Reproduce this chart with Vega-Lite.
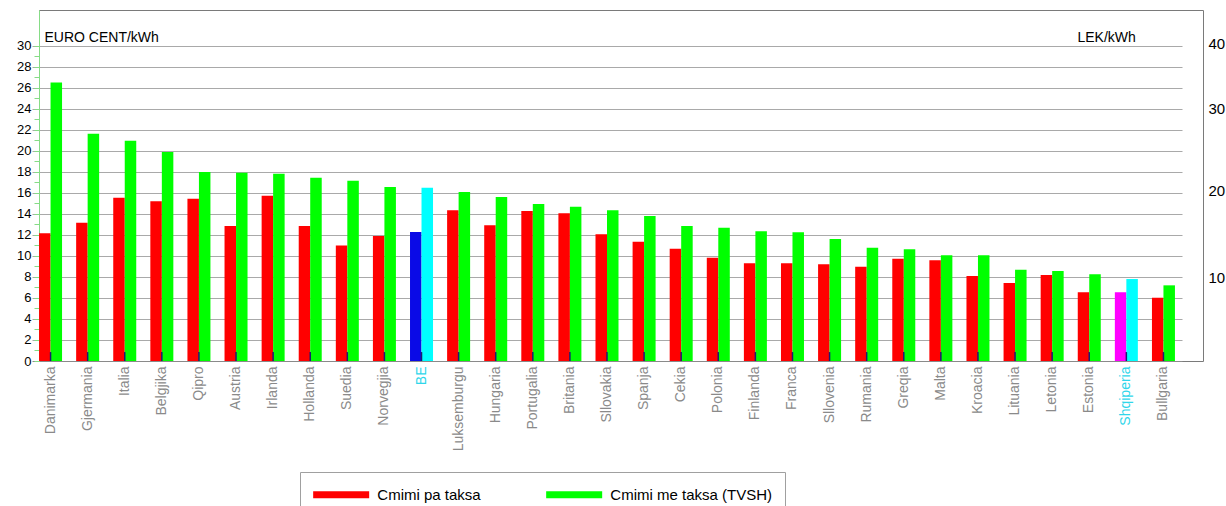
{
  "$schema": "https://vega.github.io/schema/vega-lite/v6.json",
  "autosize": "none",
  "width": 1164,
  "height": 351,
  "padding": {"left": 39, "top": 10, "right": 23, "bottom": 145},
  "background": "white",
  "config": {
    "font": "Liberation Sans",
    "view": {"stroke": "#7a7a7a", "strokeWidth": 1}
  },
  "data": {
    "values": [
      {"country": "Danimarka", "type": "Cmimi pa taksa", "value": 12.15},
      {"country": "Danimarka", "type": "Cmimi me taksa (TVSH)", "value": 26.5},
      {"country": "Gjermania", "type": "Cmimi pa taksa", "value": 13.16},
      {"country": "Gjermania", "type": "Cmimi me taksa (TVSH)", "value": 21.63},
      {"country": "Italia", "type": "Cmimi pa taksa", "value": 15.54},
      {"country": "Italia", "type": "Cmimi me taksa (TVSH)", "value": 20.96},
      {"country": "Belgjika", "type": "Cmimi pa taksa", "value": 15.19},
      {"country": "Belgjika", "type": "Cmimi me taksa (TVSH)", "value": 19.89},
      {"country": "Qipro", "type": "Cmimi pa taksa", "value": 15.45},
      {"country": "Qipro", "type": "Cmimi me taksa (TVSH)", "value": 17.98},
      {"country": "Austria", "type": "Cmimi pa taksa", "value": 12.85},
      {"country": "Austria", "type": "Cmimi me taksa (TVSH)", "value": 17.92},
      {"country": "Irlanda", "type": "Cmimi pa taksa", "value": 15.73},
      {"country": "Irlanda", "type": "Cmimi me taksa (TVSH)", "value": 17.82},
      {"country": "Hollanda", "type": "Cmimi pa taksa", "value": 12.85},
      {"country": "Hollanda", "type": "Cmimi me taksa (TVSH)", "value": 17.44},
      {"country": "Suedia", "type": "Cmimi pa taksa", "value": 11.0},
      {"country": "Suedia", "type": "Cmimi me taksa (TVSH)", "value": 17.16},
      {"country": "Norvegjia", "type": "Cmimi pa taksa", "value": 11.89},
      {"country": "Norvegjia", "type": "Cmimi me taksa (TVSH)", "value": 16.56},
      {"country": "BE", "type": "Cmimi pa taksa", "value": 12.27},
      {"country": "BE", "type": "Cmimi me taksa (TVSH)", "value": 16.49},
      {"country": "Luksemburgu", "type": "Cmimi pa taksa", "value": 14.34},
      {"country": "Luksemburgu", "type": "Cmimi me taksa (TVSH)", "value": 16.08},
      {"country": "Hungaria", "type": "Cmimi pa taksa", "value": 12.91},
      {"country": "Hungaria", "type": "Cmimi me taksa (TVSH)", "value": 15.6},
      {"country": "Portugalia", "type": "Cmimi pa taksa", "value": 14.27},
      {"country": "Portugalia", "type": "Cmimi me taksa (TVSH)", "value": 14.94},
      {"country": "Britania", "type": "Cmimi pa taksa", "value": 14.05},
      {"country": "Britania", "type": "Cmimi me taksa (TVSH)", "value": 14.68},
      {"country": "Sllovakia", "type": "Cmimi pa taksa", "value": 12.05},
      {"country": "Sllovakia", "type": "Cmimi me taksa (TVSH)", "value": 14.34},
      {"country": "Spanja", "type": "Cmimi pa taksa", "value": 11.35},
      {"country": "Spanja", "type": "Cmimi me taksa (TVSH)", "value": 13.8},
      {"country": "Cekia", "type": "Cmimi pa taksa", "value": 10.69},
      {"country": "Cekia", "type": "Cmimi me taksa (TVSH)", "value": 12.85},
      {"country": "Polonia", "type": "Cmimi pa taksa", "value": 9.83},
      {"country": "Polonia", "type": "Cmimi me taksa (TVSH)", "value": 12.68},
      {"country": "Finlanda", "type": "Cmimi pa taksa", "value": 9.29},
      {"country": "Finlanda", "type": "Cmimi me taksa (TVSH)", "value": 12.34},
      {"country": "Franca", "type": "Cmimi pa taksa", "value": 9.29},
      {"country": "Franca", "type": "Cmimi me taksa (TVSH)", "value": 12.24},
      {"country": "Sllovenia", "type": "Cmimi pa taksa", "value": 9.2},
      {"country": "Sllovenia", "type": "Cmimi me taksa (TVSH)", "value": 11.61},
      {"country": "Rumania", "type": "Cmimi pa taksa", "value": 8.97},
      {"country": "Rumania", "type": "Cmimi me taksa (TVSH)", "value": 10.78},
      {"country": "Greqia", "type": "Cmimi pa taksa", "value": 9.73},
      {"country": "Greqia", "type": "Cmimi me taksa (TVSH)", "value": 10.63},
      {"country": "Malta", "type": "Cmimi pa taksa", "value": 9.58},
      {"country": "Malta", "type": "Cmimi me taksa (TVSH)", "value": 10.06},
      {"country": "Kroacia", "type": "Cmimi pa taksa", "value": 8.09},
      {"country": "Kroacia", "type": "Cmimi me taksa (TVSH)", "value": 10.06},
      {"country": "Lituania", "type": "Cmimi pa taksa", "value": 7.42},
      {"country": "Lituania", "type": "Cmimi me taksa (TVSH)", "value": 8.69},
      {"country": "Letonia", "type": "Cmimi pa taksa", "value": 8.18},
      {"country": "Letonia", "type": "Cmimi me taksa (TVSH)", "value": 8.56},
      {"country": "Estonia", "type": "Cmimi pa taksa", "value": 6.54},
      {"country": "Estonia", "type": "Cmimi me taksa (TVSH)", "value": 8.25},
      {"country": "Shqiperia", "type": "Cmimi pa taksa", "value": 6.54},
      {"country": "Shqiperia", "type": "Cmimi me taksa (TVSH)", "value": 7.8},
      {"country": "Bullgaria", "type": "Cmimi pa taksa", "value": 6.02},
      {"country": "Bullgaria", "type": "Cmimi me taksa (TVSH)", "value": 7.2}
    ]
  },
  "encoding": {
    "x": {
      "field": "country",
      "type": "nominal",
      "sort": null,
      "scale": {
        "domain": ["Danimarka", "Gjermania", "Italia", "Belgjika", "Qipro", "Austria", "Irlanda", "Hollanda", "Suedia", "Norvegjia", "BE", "Luksemburgu", "Hungaria", "Portugalia", "Britania", "Sllovakia", "Spanja", "Cekia", "Polonia", "Finlanda", "Franca", "Sllovenia", "Rumania", "Greqia", "Malta", "Kroacia", "Lituania", "Letonia", "Estonia", "Shqiperia", "Bullgaria"],
        "range": [-7, 1143],
        "paddingInner": 0.38,
        "paddingOuter": 0.19
      },
      "axis": {
        "title": null,
        "labelAngle": 270,
        "labelAlign": "right",
        "labelBaseline": "middle",
        "labelPadding": 5,
        "labelFontSize": 14,
        "labelFont": "Liberation Sans",
        "labelColor": {"condition": {"test": "datum.value === 'BE' || datum.value === 'Shqiperia'", "value": "#2fd6ea"}, "value": "#8a8a8a"},
        "ticks": false,
        "domainColor": "#8a8a8a",
        "grid": false
      }
    }
  },
  "layer": [
    {
      "mark": {"type": "bar"},
      "encoding": {
        "xOffset": {
          "field": "type",
          "type": "nominal",
          "scale": {"domain": ["Cmimi pa taksa", "Cmimi me taksa (TVSH)"], "paddingInner": 0, "paddingOuter": 0}
        },
        "y": {
          "field": "value",
          "type": "quantitative",
          "scale": {"domain": [0, 33.4], "nice": false, "zero": true},
          "axis": {
            "orient": "left",
            "values": [0, 1, 2, 3, 4, 5, 6, 7, 8, 9, 10, 11, 12, 13, 14, 15, 16, 17, 18, 19, 20, 21, 22, 23, 24, 25, 26, 27, 28, 29, 30],
            "labelExpr": "datum.value % 2 === 0 ? datum.label : ''",
            "grid": true,
            "gridColor": "#a9a9a9",
            "gridOpacity": {"condition": {"test": "datum.value % 2 === 1 || datum.value === 0", "value": 0}, "value": 1},
            "tickColor": "#86dc86",
            "tickSize": 5,
            "domainColor": "#86dc86",
            "labelFontSize": 13,
            "labelColor": "#000000",
            "labelPadding": 3,
            "title": "EURO CENT/kWh",
            "titleAngle": 0,
            "titleX": 5,
            "titleY": 31,
            "titleAlign": "left",
            "titleBaseline": "alphabetic",
            "titleFontSize": 14,
            "titleFontWeight": "normal",
            "titleColor": "#000000"
          }
        },
        "color": {
          "condition": [
            {"test": "datum.country === 'BE' && datum.type === 'Cmimi pa taksa'", "value": "#0a0ae6"},
            {"test": "datum.country === 'Shqiperia' && datum.type === 'Cmimi pa taksa'", "value": "#ff00ff"},
            {"test": "(datum.country === 'BE' || datum.country === 'Shqiperia') && datum.type !== 'Cmimi pa taksa'", "value": "#00ffff"}
          ],
          "field": "type",
          "type": "nominal",
          "scale": {"domain": ["Cmimi pa taksa", "Cmimi me taksa (TVSH)"], "range": ["#ff0000", "#00ff00"]},
          "legend": {
            "orient": "none",
            "legendX": 261,
            "legendY": 462,
            "direction": "horizontal",
            "title": null,
            "symbolType": "M -1 -0.375 L 5 -0.375 L 5 0.375 L -1 0.375 Z",
            "symbolSize": 348.6,
            "symbolStrokeWidth": 0,
            "labelOffset": 45.3,
            "columnPadding": 65,
            "padding": 13,
            "strokeColor": "#a0a0a0",
            "fillColor": "white",
            "labelFontSize": 15,
            "labelFont": "Liberation Sans",
            "labelColor": "#000000",
            "labelLimit": 300
          }
        }
      }
    },
    {
      "transform": [{"filter": "datum.type === 'Cmimi pa taksa'"}],
      "mark": {"type": "rule", "color": "#1c1c70", "strokeWidth": 1.5},
      "encoding": {
        "y": {
          "datum": 0,
          "type": "quantitative",
          "scale": {"domain": [0, 33.4], "nice": false, "zero": true},
          "axis": {
            "orient": "right",
            "values": [7.93, 16.27, 23.98, 30.23],
            "labelExpr": "datum.value < 10 ? '10' : datum.value < 20 ? '20' : datum.value < 27 ? '30' : '40'",
            "grid": false,
            "ticks": false,
            "domain": false,
            "labelFontSize": 15,
            "labelColor": "#000000",
            "labelPadding": 5,
            "title": "LEK/kWh",
            "titleAngle": 0,
            "titleX": -126,
            "titleY": 31,
            "titleAlign": "left",
            "titleBaseline": "alphabetic",
            "titleFontSize": 14,
            "titleFontWeight": "normal",
            "titleColor": "#000000"
          }
        },
        "y2": {"datum": 0.85}
      }
    }
  ],
  "resolve": {"axis": {"y": "independent"}}
}
